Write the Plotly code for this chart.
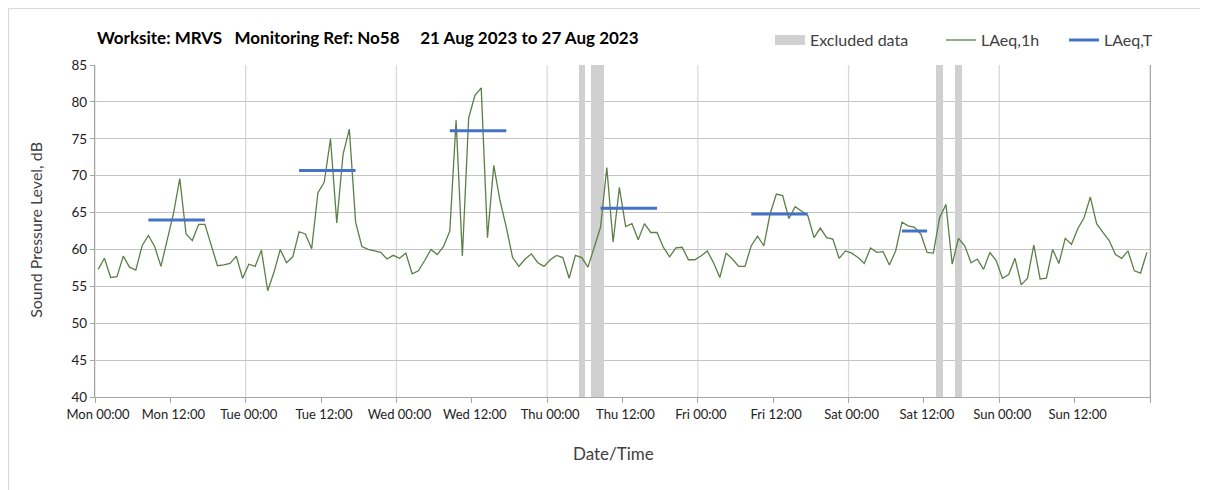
import pandas as pd
import plotly.graph_objects as go

# hourly LAeq,1h readings, Mon 21 Aug 2023 00:00 -> Sun 27 Aug 2023 23:00 (plotted at hour midpoints)
laeq_1h = [
    57.3, 58.8, 56.2, 56.3, 59.1, 57.6, 57.2, 60.5, 61.9, 60.4, 57.7, 61.3,
    64.9, 69.6, 62.1, 61.2, 63.4, 63.4, 60.6, 57.8, 57.9, 58.1, 59.1, 56.1,
    58.0, 57.7, 59.9, 54.4, 56.9, 60.0, 58.2, 59.0, 62.4, 62.1, 60.1, 67.7,
    69.1, 75.0, 63.6, 72.9, 76.3, 63.7, 60.4, 60.0, 59.8, 59.6, 58.7, 59.2,
    58.8, 59.5, 56.7, 57.1, 58.5, 60.0, 59.3, 60.4, 62.5, 77.5, 59.1, 77.8,
    80.9, 81.9, 61.6, 71.4, 66.6, 63.0, 58.9, 57.7, 58.7, 59.4, 58.2, 57.7,
    58.6, 59.2, 58.9, 56.1, 59.2, 58.9, 57.6, 60.3, 63.0, 71.1, 61.0, 68.4,
    63.1, 63.5, 61.3, 63.5, 62.3, 62.3, 60.3, 59.0, 60.2, 60.3, 58.6, 58.6,
    59.1, 59.8, 58.2, 56.2, 59.5, 58.7, 57.7, 57.7, 60.5, 61.8, 60.5, 64.8,
    67.5, 67.3, 64.2, 65.8, 65.2, 64.6, 61.6, 62.9, 61.6, 61.4, 58.8, 59.8,
    59.5, 58.9, 58.1, 60.2, 59.6, 59.7, 57.9, 59.8, 63.7, 63.2, 63.0, 62.1,
    59.6, 59.5, 64.3, 66.1, 58.0, 61.5, 60.5, 58.2, 58.7, 57.3, 59.6, 58.5,
    56.1, 56.6, 58.8, 55.2, 56.1, 60.6, 56.0, 56.1, 60.0, 58.1, 61.5, 60.7,
    62.8, 64.3, 67.1, 63.5, 62.3, 61.2, 59.3, 58.8, 59.8, 57.1, 56.8, 59.6,
]
times_1h = pd.date_range("2023-08-21 00:30", periods=len(laeq_1h), freq="h")

# LAeq,T periods
laeqt_start = ["2023-08-21 08:30", "2023-08-22 08:30", "2023-08-23 08:30",
               "2023-08-24 08:30", "2023-08-25 08:30", "2023-08-26 08:30"]
laeqt_end = ["2023-08-21 17:30", "2023-08-22 17:30", "2023-08-23 17:30",
             "2023-08-24 17:30", "2023-08-25 17:30", "2023-08-26 12:30"]
laeqt_val = [64.0, 70.7, 76.1, 65.6, 64.8, 62.5]

# excluded hours (centre of each hour)
excluded_hours = ["2023-08-24 05:30", "2023-08-24 07:30", "2023-08-24 08:30",
                  "2023-08-26 14:30", "2023-08-26 17:30"]

tick_vals = pd.date_range("2023-08-21 00:00", "2023-08-28 00:00", freq="12h")
tick_text = ["Mon 00:00", "Mon 12:00", "Tue 00:00", "Tue 12:00", "Wed 00:00",
             "Wed 12:00", "Thu 00:00", "Thu 12:00", "Fri 00:00", "Fri 12:00",
             "Sat 00:00", "Sat 12:00", "Sun 00:00", "Sun 12:00", ""]
day_lines = pd.date_range("2023-08-21 00:00", "2023-08-28 00:00", freq="24h")

Y_MIN, Y_MAX = 40, 85
FONT = "Lato"
GREY_TXT = "#404040"
EXCL_GREY = "#D0D0D0"

# blue segments joined with gaps
seg_x, seg_y = [], []
for s, e, v in zip(laeqt_start, laeqt_end, laeqt_val):
    seg_x += [s, e, None]
    seg_y += [v, v, None]

fig = go.Figure()
fig.add_trace(go.Bar(
    x=excluded_hours, y=[Y_MAX - Y_MIN] * len(excluded_hours), base=Y_MIN,
    width=3600000, marker=dict(color=EXCL_GREY, line=dict(width=0)),
    name="Excluded data", legendgroup="excl", showlegend=False,
))
# legend swatch for the excluded bands (wide grey block like the original)
fig.add_trace(go.Scatter(
    x=[None], y=[None], mode="lines", name="Excluded data", legendgroup="excl",
    line=dict(color=EXCL_GREY, width=11), legend="legend",
))
fig.add_trace(go.Scatter(
    x=times_1h, y=laeq_1h, mode="lines", name="LAeq,1h",
    line=dict(color="#5B7F47", width=1.3), legend="legend2",
))
fig.add_trace(go.Scatter(
    x=seg_x, y=seg_y, mode="lines", name="LAeq,T",
    line=dict(color="#4472C4", width=3), legend="legend3",
))

# vertical day lines (gridlines only at midnight)
for d in day_lines:
    fig.add_shape(type="line", xref="x", yref="paper", x0=d, x1=d, y0=0, y1=1,
                  line=dict(color="#D9D9D9", width=1.3), layer="below")

# outer chart border (only top and left edges fall inside the window)
fig.add_shape(type="rect", xref="paper", yref="paper",
              x0=-0.082, x1=1.07, y0=-0.32, y1=1.170,
              line=dict(color="#D9D9D9", width=1))

fig.add_annotation(
    text="Worksite: MRVS\u00a0\u00a0\u00a0Monitoring Ref: No58\u00a0\u00a0\u00a0\u00a0\u00a021 Aug 2023 to 27 Aug 2023",
    xref="paper", yref="paper", x=0.0, y=1.084, xanchor="left", yanchor="middle",
    showarrow=False, font=dict(family=FONT, size=17, color="#000000", weight="bold"),
)
fig.add_annotation(
    text="Sound Pressure Level, dB", textangle=-90,
    xref="paper", yref="paper", x=-0.057, y=0.503, xanchor="center", yanchor="middle",
    showarrow=False, font=dict(family=FONT, size=16, color=GREY_TXT),
)
fig.add_annotation(
    text="Date/Time", xref="paper", yref="paper", x=0.491, y=-0.169,
    xanchor="center", yanchor="middle", showarrow=False,
    font=dict(family=FONT, size=17, color=GREY_TXT),
)

fig.update_xaxes(
    type="date", range=["2023-08-21 00:00", "2023-08-28 00:00"],
    tickvals=tick_vals, ticktext=tick_text, showgrid=False,
    ticks="outside", ticklen=5, tickcolor="#A6A6A6", ticklabelshift=3,
    showline=True, linecolor="#A6A6A6", linewidth=1.3,
    tickfont=dict(family=FONT, size=13, color="#222222"), zeroline=False,
)
fig.update_yaxes(
    range=[Y_MIN, Y_MAX], dtick=5, showgrid=True, gridcolor="#C4C4C4", gridwidth=1.3,
    ticks="outside", ticklen=4, tickcolor="#A6A6A6",
    showline=True, linecolor="#A6A6A6", linewidth=1.3, mirror=True,
    tickfont=dict(family=FONT, size=13.5, color="#222222"), zeroline=False,
)

leg_font = dict(family=FONT, size=16, color=GREY_TXT)
leg_common = dict(orientation="h", y=1.075, xanchor="left", yanchor="middle",
                  font=leg_font, bgcolor="rgba(0,0,0,0)", borderwidth=0)
fig.update_layout(
    width=1208, height=490, autosize=False,
    margin=dict(l=87, r=66, t=57, b=101),
    plot_bgcolor="white", paper_bgcolor="white",
    showlegend=True, bargap=0,
    legend=dict(x=0.6398, **leg_common),
    legend2=dict(x=0.8019, **leg_common),
    legend3=dict(x=0.9185, **leg_common),
)

fig.write_html("out.html")
